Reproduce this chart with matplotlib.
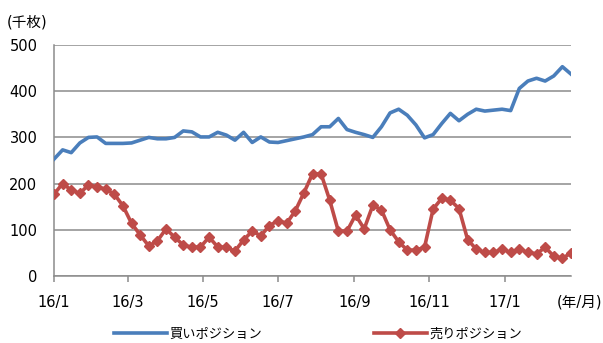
import numpy as np
import pandas as pd
import matplotlib
matplotlib.use("Agg")
import matplotlib.pyplot as plt

# Latin digits from DejaVu, kana/kanji from Noto CJK
plt.rcParams['font.family'] = ['DejaVu Sans', 'Noto Sans CJK JP']

# weekly positions (thousand contracts)
dates = pd.date_range('2016-01-05', periods=61, freq='7D')
buy = [253, 273, 267, 288, 300, 301, 287, 287, 287, 288,
       294, 300, 297, 297, 300, 314, 312, 301, 301, 311,
       305, 294, 311, 289, 301, 290, 289, 293, 297, 301,
       306, 323, 323, 341, 317, 311, 306, 300, 323, 353,
       361, 348, 327, 299, 306, 330, 352, 336, 350, 361,
       357, 359, 361, 358, 406, 422, 428, 422, 433, 453,
       437]
sell = [177, 200, 186, 179, 197, 193, 188, 177, 152, 114,
        89, 65, 76, 102, 84, 67, 62, 63, 84, 63,
        62, 54, 78, 97, 87, 109, 120, 114, 141, 180,
        221, 221, 164, 97, 97, 132, 102, 153, 143, 100,
        74, 56, 56, 62, 145, 168, 164, 146, 79, 58,
        51, 51, 58, 51, 58, 51, 48, 62, 43, 38,
        50]
tick_dates = pd.to_datetime(['2016-01-05', '2016-03-05', '2016-05-05', '2016-07-05',
                             '2016-09-05', '2016-11-05', '2017-01-05'])
tick_labels = ['16/1', '16/3', '16/5', '16/7', '16/9', '16/11', '17/1']

blue = '#4a7ebb'
red = '#be4b48'
grid_c = '#8c8c8c'

fig = plt.figure(figsize=(6.03, 3.43), dpi=100)
ax = fig.add_axes([54/603, 1 - 276/343, (571 - 54)/603, (276 - 45)/343])

ax.plot(dates, buy, color=blue, lw=2.6, label='買いポジション', zorder=3)
ax.plot(dates, sell, color=red, lw=2.6, marker='D', ms=4.6, label='売りポジション', zorder=3)

ax.set_ylim(0, 500)
ax.set_yticks(np.arange(0, 501, 100))
ax.set_xlim(dates[0], dates[-1])
ax.set_xticks(tick_dates)
ax.set_xticklabels(tick_labels)

ax.grid(axis='y', color=grid_c, lw=1.1)
ax.set_axisbelow(True)
for s in ['top', 'right']:
    ax.spines[s].set_visible(False)
for s in ['left', 'bottom']:
    ax.spines[s].set_color(grid_c)
    ax.spines[s].set_linewidth(1.1)

ax.tick_params(axis='y', length=0, pad=12, labelsize=10.5)
ax.tick_params(axis='x', length=4, width=1.1, color=grid_c, pad=10, labelsize=10.5)

fig.text(7/603, 1 - 22/343, '(千枚)', fontsize=10.5, va='center', ha='left')
fig.text(602/603, 1 - 302/343, '(年/月)', fontsize=10.5, va='center', ha='right')

fig.legend(loc='center', bbox_to_anchor=(318/603, 1 - 334/343), ncol=2, frameon=False,
           fontsize=9.5, handlelength=4.0, handletextpad=0.2, columnspacing=8.5)

fig.savefig('out.png', dpi=100)
